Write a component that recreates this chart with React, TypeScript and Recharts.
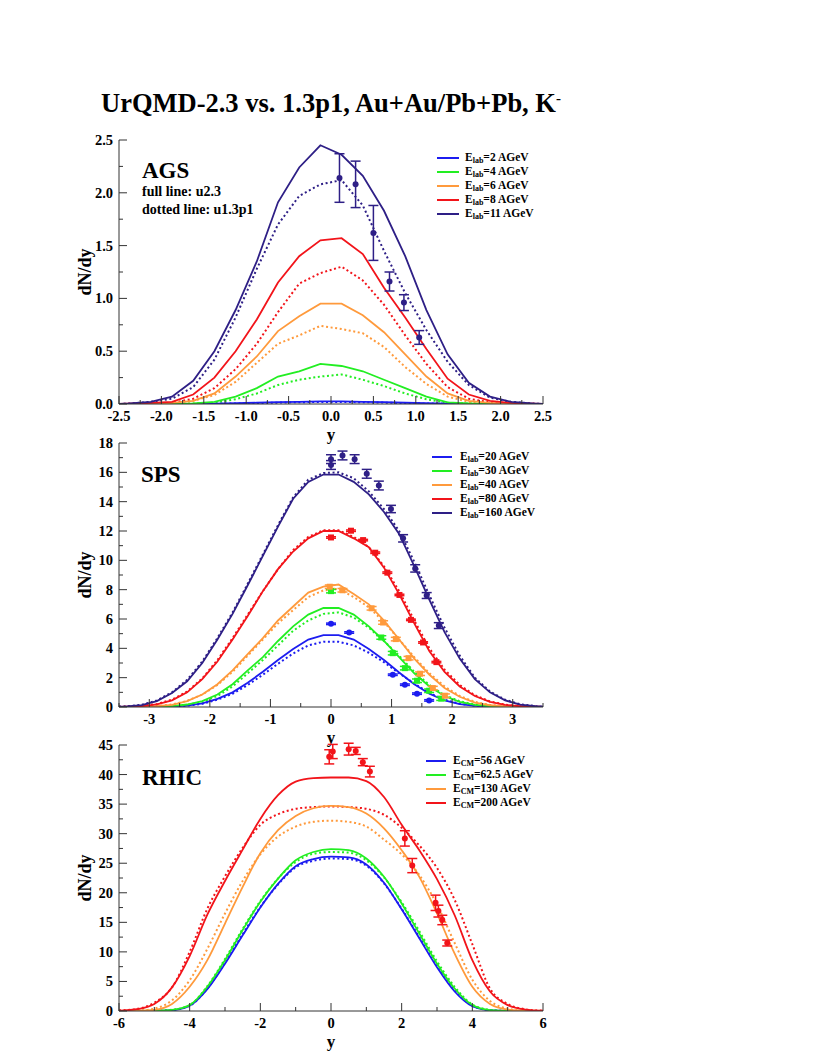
import React from "react";
import { ComposedChart, Line, Scatter, ErrorBar, XAxis, YAxis } from "recharts";

const SERIF = '"Liberation Serif", "Times New Roman", serif';

const BLUE = "#1c1cf0";
const GREEN = "#22ee22";
const ORANGE = "#ff9a3c";
const RED = "#f2141a";
const PURPLE = "#2e1f86";

// ---------------- AGS ----------------
const agsRapidity = [-2.5, -2.375, -2.125, -1.875, -1.625, -1.375, -1.125, -0.875, -0.625, -0.375, -0.125,
  0.125, 0.375, 0.625, 0.875, 1.125, 1.375, 1.625, 1.875, 2.125, 2.375, 2.5];
const ags2Full = [0, 0, 0, 0, 0.002, 0.004, 0.007, 0.012, 0.017, 0.021, 0.024, 0.024, 0.021, 0.017, 0.012, 0.007, 0.004, 0.002, 0, 0, 0, 0];
const ags2Dot = [0, 0, 0, 0, 0.001, 0.003, 0.005, 0.009, 0.013, 0.017, 0.019, 0.019, 0.017, 0.013, 0.009, 0.005, 0.003, 0.001, 0, 0, 0, 0];
const ags4Full = [0, 0, 0.001, 0.002, 0.005, 0.02, 0.07, 0.15, 0.26, 0.31, 0.38, 0.36, 0.31, 0.23, 0.15, 0.07, 0.015, 0.005, 0.002, 0.001, 0, 0];
const ags4Dot = [0, 0, 0.001, 0.002, 0.004, 0.012, 0.045, 0.1, 0.18, 0.23, 0.26, 0.28, 0.23, 0.17, 0.1, 0.045, 0.012, 0.004, 0.002, 0.001, 0, 0];
const ags6Full = [0, 0.001, 0.003, 0.01, 0.03, 0.1, 0.26, 0.45, 0.69, 0.83, 0.95, 0.95, 0.84, 0.68, 0.47, 0.26, 0.1, 0.03, 0.01, 0.003, 0.001, 0];
const ags6Dot = [0, 0.001, 0.002, 0.008, 0.03, 0.085, 0.21, 0.39, 0.57, 0.65, 0.74, 0.71, 0.67, 0.54, 0.35, 0.19, 0.07, 0.02, 0.006, 0.002, 0.001, 0];
const ags8Full = [0, 0.003, 0.01, 0.02, 0.09, 0.25, 0.5, 0.8, 1.15, 1.4, 1.55, 1.57, 1.42, 1.1, 0.82, 0.52, 0.24, 0.09, 0.03, 0.01, 0.003, 0];
const ags8Dot = [0, 0.002, 0.005, 0.01, 0.05, 0.15, 0.33, 0.57, 0.87, 1.14, 1.24, 1.3, 1.17, 0.94, 0.65, 0.38, 0.16, 0.05, 0.015, 0.005, 0.002, 0];
const ags11Full = [0, 0.005, 0.02, 0.07, 0.22, 0.5, 0.89, 1.35, 1.91, 2.24, 2.45, 2.36, 2.16, 1.83, 1.4, 0.89, 0.47, 0.2, 0.07, 0.02, 0.005, 0];
const ags11Dot = [0, 0.005, 0.02, 0.05, 0.16, 0.42, 0.82, 1.28, 1.7, 1.97, 2.08, 2.12, 1.88, 1.45, 1.05, 0.7, 0.4, 0.18, 0.06, 0.02, 0.005, 0];
const agsDataY = [0.1, 0.29, 0.5, 0.69, 0.86, 1.04];
const agsDataN = [2.14, 2.08, 1.62, 1.16, 0.96, 0.63];
const agsDataErr = [0.23, 0.22, 0.26, 0.09, 0.075, 0.065];
const agsLegend = ["=2 AGeV", "=4 AGeV", "=6 AGeV", "=8 AGeV", "=11 AGeV"];
const agsXLabels = ["-2.5", "-2.0", "-1.5", "-1.0", "-0.5", "0.0", "0.5", "1.0", "1.5", "2.0", "2.5"];
const agsYLabels = ["0.0", "0.5", "1.0", "1.5", "2.0", "2.5"];

// ---------------- SPS ----------------
const spsRapidity = [-3.5, -3.375, -3.125, -2.875, -2.625, -2.375, -2.125, -1.875, -1.625, -1.375, -1.125, -0.875, -0.625, -0.375, -0.125,
  0.125, 0.375, 0.625, 0.875, 1.125, 1.375, 1.625, 1.875, 2.125, 2.375, 2.625, 2.875, 3.125, 3.375, 3.5];
const sps20Full = [0, 0, 0, 0.01, 0.035, 0.1, 0.25, 0.55, 1.0, 1.65, 2.4, 3.2, 3.95, 4.6, 4.9, 4.9, 4.6, 3.95, 3.2, 2.35, 1.55, 0.9, 0.45, 0.2, 0.08, 0.03, 0.01, 0, 0, 0];
const sps20Dot = [0, 0, 0, 0.01, 0.03, 0.09, 0.22, 0.5, 0.9, 1.5, 2.2, 2.95, 3.65, 4.2, 4.45, 4.45, 4.2, 3.7, 3.05, 2.3, 1.6, 0.95, 0.5, 0.22, 0.09, 0.03, 0.01, 0, 0, 0];
const sps30Full = [0, 0, 0.01, 0.02, 0.06, 0.17, 0.4, 0.85, 1.55, 2.5, 3.4, 4.5, 5.5, 6.3, 6.75, 6.75, 6.3, 5.5, 4.5, 3.4, 2.3, 1.4, 0.75, 0.35, 0.14, 0.05, 0.015, 0, 0, 0];
const sps30Dot = [0, 0, 0.01, 0.02, 0.05, 0.15, 0.35, 0.75, 1.4, 2.3, 3.2, 4.2, 5.2, 5.9, 6.35, 6.45, 6.1, 5.4, 4.5, 3.5, 2.4, 1.5, 0.8, 0.4, 0.16, 0.06, 0.02, 0, 0, 0];
const sps40Full = [0, 0.01, 0.02, 0.05, 0.15, 0.4, 0.85, 1.55, 2.5, 3.6, 4.7, 5.9, 6.85, 7.8, 8.2, 8.35, 7.7, 7.0, 5.9, 4.6, 3.3, 2.2, 1.3, 0.7, 0.3, 0.12, 0.04, 0.01, 0, 0];
const sps40Dot = [0, 0.01, 0.02, 0.06, 0.17, 0.42, 0.85, 1.5, 2.4, 3.5, 4.6, 5.7, 6.6, 7.5, 7.95, 8.05, 7.5, 6.8, 5.8, 4.6, 3.4, 2.3, 1.4, 0.75, 0.35, 0.14, 0.05, 0.01, 0, 0];
const sps80Full = [0.01, 0.02, 0.06, 0.18, 0.45, 1.0, 1.9, 3.1, 4.6, 6.2, 7.9, 9.4, 10.6, 11.5, 12.0, 12.0, 11.5, 10.9, 9.5, 7.7, 5.7, 3.8, 2.4, 1.4, 0.75, 0.35, 0.14, 0.05, 0.02, 0.01];
const sps80Dot = [0.01, 0.02, 0.07, 0.2, 0.5, 1.05, 1.95, 3.2, 4.7, 6.3, 7.9, 9.4, 10.7, 11.6, 12.05, 12.05, 11.6, 10.9, 9.6, 7.9, 5.9, 4.0, 2.55, 1.5, 0.8, 0.38, 0.16, 0.06, 0.02, 0.01];
const sps160Full = [0.02, 0.04, 0.13, 0.4, 0.95, 1.75, 3.0, 4.6, 6.35, 8.3, 10.3, 12.3, 14.2, 15.35, 15.85, 15.85, 15.35, 14.5, 13.3, 11.8, 9.6, 7.3, 5.1, 3.3, 1.9, 1.0, 0.45, 0.16, 0.05, 0.02];
const sps160Dot = [0.02, 0.05, 0.15, 0.45, 1.0, 1.85, 3.1, 4.7, 6.45, 8.4, 10.4, 12.4, 14.3, 15.5, 15.95, 16.0, 15.6, 14.7, 13.5, 12.0, 9.9, 7.6, 5.4, 3.5, 2.0, 1.05, 0.5, 0.18, 0.06, 0.02];
const sps20DataY = [0, 0.3, 1.02, 1.22, 1.42, 1.62];
const sps20DataN = [5.67, 5.08, 2.2, 1.52, 0.91, 0.45];
const sps30DataY = [0, 0.83, 1.02, 1.22, 1.42, 1.62, 1.82];
const sps30DataN = [7.9, 4.74, 3.67, 2.65, 1.79, 1.11, 0.57];
const sps40DataY = [-0.02, 0.19, 0.67, 0.86, 1.07, 1.28, 1.47, 1.68, 1.88];
const sps40DataN = [8.2, 7.96, 6.73, 5.76, 4.63, 3.33, 2.27, 1.29, 0.77];
const sps80DataY = [0, 0.33, 0.53, 0.73, 0.93, 1.13, 1.32, 1.52, 1.74];
const sps80DataN = [11.56, 12.02, 11.38, 10.52, 9.16, 7.64, 5.94, 4.4, 3.06];
const sps160DataY = [0, 0, 0.19, 0.39, 0.59, 0.79, 0.99, 1.19, 1.39, 1.58, 1.78];
const sps160DataN = [16.9, 16.5, 17.15, 16.9, 15.9, 15.1, 13.5, 11.5, 9.45, 7.6, 5.55];
const sps160DataErr = [0.3, 0.3, 0.3, 0.3, 0.3, 0.3, 0.25, 0.25, 0.25, 0.2, 0.2];
const spsLegend = ["=20 AGeV", "=30 AGeV", "=40 AGeV", "=80 AGeV", "=160 AGeV"];
const spsXLabels = ["-3", "-2", "-1", "0", "1", "2", "3"];
const spsYLabels = ["0", "2", "4", "6", "8", "10", "12", "14", "16", "18"];

// ---------------- RHIC ----------------
const rhicRapidity = [-6, -5.5, -5, -4.5, -4, -3.5, -3, -2.5, -2, -1.5, -1, -0.5, 0, 0.5, 1, 1.5, 2, 2.5, 3, 3.5, 4, 4.5, 5, 5.5, 6];
const rhic56Full = [0, 0.01, 0.03, 0.15, 0.9, 3.7, 8.0, 12.8, 17.5, 21.5, 24.5, 25.7, 26.1, 26.0, 24.8, 21.7, 17.2, 12.3, 7.4, 3.3, 0.8, 0.1, 0.01, 0, 0];
const rhic56Dot = [0, 0.01, 0.03, 0.15, 0.9, 3.8, 8.2, 13.0, 17.6, 21.4, 24.3, 25.4, 25.8, 25.7, 24.6, 21.6, 17.3, 12.5, 7.7, 3.5, 0.9, 0.12, 0.01, 0, 0];
const rhic62Full = [0, 0.02, 0.05, 0.2, 1.0, 4.1, 8.6, 13.7, 18.5, 22.4, 25.5, 26.9, 27.4, 27.2, 25.8, 22.7, 18.2, 13.1, 8.0, 3.8, 1.0, 0.15, 0.02, 0, 0];
const rhic62Dot = [0, 0.02, 0.05, 0.2, 1.0, 4.2, 8.8, 13.9, 18.6, 22.4, 25.2, 26.6, 26.9, 26.8, 25.5, 22.6, 18.4, 13.5, 8.4, 4.1, 1.1, 0.2, 0.02, 0, 0];
const rhic130Full = [0.02, 0.05, 0.2, 1.2, 4.1, 8.6, 14.8, 21.0, 26.7, 30.6, 33.0, 34.3, 34.7, 34.5, 33.4, 30.9, 27.2, 22.7, 16.5, 9.7, 4.1, 1.2, 0.25, 0.05, 0.02];
const rhic130Dot = [0.02, 0.05, 0.4, 1.8, 5.2, 10.5, 16.5, 22.0, 26.5, 29.5, 31.2, 32.0, 32.2, 32.0, 31.2, 29.0, 26.5, 23.0, 18.0, 11.5, 5.3, 1.7, 0.4, 0.05, 0.02];
const rhic200Full = [0.05, 0.3, 1.2, 4.0, 9.3, 16.3, 22.0, 27.3, 32.5, 36.5, 38.8, 39.4, 39.5, 39.5, 38.9, 36.2, 31.5, 27.2, 22.3, 16.2, 8.6, 3.3, 1.0, 0.25, 0.05];
const rhic200Dot = [0.1, 0.35, 1.4, 4.0, 10.0, 17.3, 22.8, 27.6, 31.5, 33.3, 34.2, 34.5, 34.6, 34.5, 34.2, 33.2, 31.0, 28.0, 24.2, 18.8, 11.3, 3.8, 1.2, 0.3, 0.05];
const rhicDataY = [-0.05, 0.05, 0.5, 0.7, 0.9, 1.1, 2.09, 2.3, 2.96, 3.04, 3.15, 3.29];
const rhicDataN = [43.0, 43.9, 44.3, 44.0, 42.1, 40.5, 29.2, 24.6, 18.3, 16.9, 15.4, 11.5];
const rhicDataErr = [1.2, 1.2, 1.0, 0.6, 0.6, 0.9, 1.3, 1.2, 1.3, 1.0, 0.8, 0.5];
const rhicLegend = ["=56 AGeV", "=62.5 AGeV", "=130 AGeV", "=200 AGeV"];
const rhicXLabels = ["-6", "-4", "-2", "0", "2", "4", "6"];
const rhicYLabels = ["0", "5", "10", "15", "20", "25", "30", "35", "40", "45"];

type Curve = { color: string; full: number[]; dotted: number[] };
type DataSet = { color: string; shape: "circle" | "square"; xs: number[]; ys: number[]; err: number[] };

const toPts = (xs: number[], ys: number[]) => xs.map((x, i) => ({ x, y: ys[i] }));
const toData = (d: DataSet) => d.xs.map((x, i) => ({ x, y: d.ys[i], e: d.err[i] }));
const fill = (n: number, v: number) => new Array(n).fill(v);

const stepTicks = (lo: number, hi: number, step: number) => {
  const out: number[] = [];
  for (let v = lo; v <= hi + 1e-9; v += step) out.push(Math.round(v * 1000) / 1000);
  return out;
};

function makeTick(side: "bottom" | "top" | "left" | "right", majors: number[], labels: string[] | null) {
  return (p: any) => {
    const { x, y, payload } = p;
    const idx = majors.findIndex((m) => Math.abs(m - payload.value) < 1e-6);
    const len = idx >= 0 ? 8 : 4;
    let line = null;
    if (side === "bottom") line = <line x1={x} y1={y} x2={x} y2={y - len} />;
    if (side === "top") line = <line x1={x} y1={y} x2={x} y2={y + len} />;
    if (side === "left") line = <line x1={x} y1={y} x2={x + len} y2={y} />;
    if (side === "right") line = <line x1={x} y1={y} x2={x - len} y2={y} />;
    let label = null;
    if (labels && idx >= 0) {
      if (side === "bottom")
        label = (
          <text x={x} y={y + 17} textAnchor="middle" stroke="none" fill="#000" fontSize={14.5} fontWeight="bold" fontFamily={SERIF}>
            {labels[idx]}
          </text>
        );
      if (side === "left")
        label = (
          <text x={x - 6} y={y + 5} textAnchor="end" stroke="none" fill="#000" fontSize={14.5} fontWeight="bold" fontFamily={SERIF}>
            {labels[idx]}
          </text>
        );
    }
    return (
      <g stroke="#333" strokeWidth={1}>
        {line}
        {label}
      </g>
    );
  };
}

interface PanelProps {
  plotTop: number;
  plotH: number;
  xs: number[];
  curves: Curve[];
  data: DataSet[];
  xDomain: [number, number];
  xStep: number;
  xMajor: number[];
  xLabels: string[];
  yDomain: [number, number];
  yStep: number;
  yMajor: number[];
  yLabels: string[];
  curveType: "linear" | "monotone";
}

function Panel(props: PanelProps) {
  const { plotTop, plotH, xs, curves, data, xDomain, xStep, xMajor, xLabels, yDomain, yStep, yMajor, yLabels, curveType } = props;
  const xTicks = stepTicks(xDomain[0], xDomain[1], xStep);
  const yTicks = stepTicks(yDomain[0], yDomain[1], yStep);
  const h = 20 + plotH + 50;
  return (
    <div style={{ position: "absolute", left: 0, top: plotTop - 20 }}>
      <ComposedChart width={817} height={h} margin={{ top: 20, right: 274, bottom: 10, left: 59 }}>
        <XAxis xAxisId="b" type="number" dataKey="x" domain={xDomain} allowDataOverflow ticks={xTicks} interval={0}
          tickSize={0} tickMargin={0} tickLine={false} height={40} axisLine={{ stroke: "#333" }}
          tick={makeTick("bottom", xMajor, xLabels)} />
        <XAxis xAxisId="t" orientation="top" type="number" dataKey="x" domain={xDomain} allowDataOverflow ticks={xTicks} interval={0}
          tickSize={0} tickMargin={0} tickLine={false} height={0} axisLine={{ stroke: "#333" }}
          tick={makeTick("top", xMajor, null)} />
        <YAxis yAxisId="l" type="number" dataKey="y" domain={yDomain} allowDataOverflow ticks={yTicks} interval={0}
          tickSize={0} tickMargin={0} tickLine={false} width={60} axisLine={{ stroke: "#333" }}
          tick={makeTick("left", yMajor, yLabels)} />
        <YAxis yAxisId="r" orientation="right" type="number" dataKey="y" domain={yDomain} allowDataOverflow ticks={yTicks} interval={0}
          tickSize={0} tickMargin={0} tickLine={false} width={0} axisLine={{ stroke: "#333" }}
          tick={makeTick("right", yMajor, null)} />
        {curves.map((c, i) => (
          <Line key={"d" + i} xAxisId="b" yAxisId="l" data={toPts(xs, c.dotted)} dataKey="y" type={curveType}
            stroke={c.color} strokeWidth={2} strokeDasharray="2 2.6" dot={false} activeDot={false} isAnimationActive={false} />
        ))}
        {curves.map((c, i) => (
          <Line key={"f" + i} xAxisId="b" yAxisId="l" data={toPts(xs, c.full)} dataKey="y" type={curveType}
            stroke={c.color} strokeWidth={1.8} dot={false} activeDot={false} isAnimationActive={false} />
        ))}
        {data.map((d, i) => (
          <Scatter key={"s" + i} xAxisId="b" yAxisId="l" data={toData(d)} dataKey="y" isAnimationActive={false}
            shape={(sp: any) =>
              d.shape === "circle" ? (
                <circle cx={sp.cx} cy={sp.cy} r={3} fill={d.color} />
              ) : (
                <rect x={sp.cx - 3} y={sp.cy - 3} width={6} height={6} fill={d.color} />
              )
            }>
            <ErrorBar dataKey="e" direction="y" width={5} strokeWidth={1.5} stroke={d.color} />
          </Scatter>
        ))}
      </ComposedChart>
    </div>
  );
}

function LegendBox({ left, top, lineW, gap, colors, sub, texts }: { left: number; top: number; lineW: number; gap: number; colors: string[]; sub: string; texts: string[] }) {
  return (
    <div style={{ position: "absolute", left, top, fontFamily: SERIF, fontWeight: "bold", fontSize: 11.5 }}>
      {texts.map((t, i) => (
        <div key={i} style={{ display: "flex", alignItems: "center", height: 14, whiteSpace: "nowrap" }}>
          <div style={{ width: lineW, height: 2, background: colors[i], marginRight: gap }} />
          <span>
            E<sub style={{ fontSize: 8, verticalAlign: "-2px" }}>{sub}</sub>
            {t}
          </span>
        </div>
      ))}
    </div>
  );
}

const abs = (left: number, top: number, extra: React.CSSProperties = {}): React.CSSProperties => ({
  position: "absolute", left, top, fontFamily: SERIF, fontWeight: "bold", whiteSpace: "nowrap", ...extra,
});

function AxisTitles({ plotTop, plotH }: { plotTop: number; plotH: number }) {
  return (
    <>
      <div style={abs(85, plotTop + plotH / 2, { fontSize: 18, lineHeight: "18px", transform: "translate(-50%, -50%) rotate(-90deg)" })}>
        dN/dy
      </div>
      <div style={abs(331, plotTop + plotH + 20.5, { fontSize: 17, lineHeight: "19px", transform: "translateX(-50%)" })}>y</div>
    </>
  );
}

export default function App() {
  const five = [BLUE, GREEN, ORANGE, RED, PURPLE];
  const agsCurves: Curve[] = [
    { color: BLUE, full: ags2Full, dotted: ags2Dot },
    { color: GREEN, full: ags4Full, dotted: ags4Dot },
    { color: ORANGE, full: ags6Full, dotted: ags6Dot },
    { color: RED, full: ags8Full, dotted: ags8Dot },
    { color: PURPLE, full: ags11Full, dotted: ags11Dot },
  ];
  const spsCurves: Curve[] = [
    { color: BLUE, full: sps20Full, dotted: sps20Dot },
    { color: GREEN, full: sps30Full, dotted: sps30Dot },
    { color: ORANGE, full: sps40Full, dotted: sps40Dot },
    { color: RED, full: sps80Full, dotted: sps80Dot },
    { color: PURPLE, full: sps160Full, dotted: sps160Dot },
  ];
  const rhicCurves: Curve[] = [
    { color: BLUE, full: rhic56Full, dotted: rhic56Dot },
    { color: GREEN, full: rhic62Full, dotted: rhic62Dot },
    { color: ORANGE, full: rhic130Full, dotted: rhic130Dot },
    { color: RED, full: rhic200Full, dotted: rhic200Dot },
  ];
  const agsData: DataSet[] = [{ color: PURPLE, shape: "circle", xs: agsDataY, ys: agsDataN, err: agsDataErr }];
  const spsData: DataSet[] = [
    { color: BLUE, shape: "circle", xs: sps20DataY, ys: sps20DataN, err: fill(sps20DataY.length, 0.05) },
    { color: GREEN, shape: "square", xs: sps30DataY, ys: sps30DataN, err: fill(sps30DataY.length, 0.12) },
    { color: ORANGE, shape: "square", xs: sps40DataY, ys: sps40DataN, err: fill(sps40DataY.length, 0.12) },
    { color: RED, shape: "square", xs: sps80DataY, ys: sps80DataN, err: fill(sps80DataY.length, 0.05) },
    { color: PURPLE, shape: "circle", xs: sps160DataY, ys: sps160DataN, err: sps160DataErr },
  ];
  const rhicData: DataSet[] = [{ color: RED, shape: "circle", xs: rhicDataY, ys: rhicDataN, err: rhicDataErr }];

  return (
    <div style={{ position: "absolute", left: 0, top: 0, width: 817, height: 1058, background: "#fff" }}>
      <div style={abs(101, 83, { fontSize: 26.5, lineHeight: "30px" })}>
        UrQMD-2.3 vs. 1.3p1, Au+Au/Pb+Pb, K<sup style={{ fontSize: 15, verticalAlign: "9px" }}>-</sup>
      </div>

      <Panel plotTop={140} plotH={264} xs={agsRapidity} curves={agsCurves} data={agsData}
        xDomain={[-2.5, 2.5]} xStep={0.25} xMajor={[-2.5, -2, -1.5, -1, -0.5, 0, 0.5, 1, 1.5, 2, 2.5]} xLabels={agsXLabels}
        yDomain={[0, 2.5]} yStep={0.25} yMajor={[0, 0.5, 1, 1.5, 2, 2.5]} yLabels={agsYLabels} curveType="linear" />
      <AxisTitles plotTop={140} plotH={264} />
      <div style={abs(142, 158.7, { fontSize: 23, lineHeight: "23px" })}>AGS</div>
      <div style={abs(142, 185, { fontSize: 14, lineHeight: "14px" })}>full line: u2.3</div>
      <div style={abs(142, 203, { fontSize: 14, lineHeight: "14px" })}>dotted line: u1.3p1</div>
      <LegendBox left={437} top={151} lineW={22} gap={6} colors={five} sub="lab" texts={agsLegend} />

      <Panel plotTop={443} plotH={264} xs={spsRapidity} curves={spsCurves} data={spsData}
        xDomain={[-3.5, 3.5]} xStep={0.5} xMajor={[-3, -2, -1, 0, 1, 2, 3]} xLabels={spsXLabels}
        yDomain={[0, 18]} yStep={1} yMajor={[0, 2, 4, 6, 8, 10, 12, 14, 16, 18]} yLabels={spsYLabels} curveType="linear" />
      <AxisTitles plotTop={443} plotH={264} />
      <div style={abs(141, 462.7, { fontSize: 23, lineHeight: "23px" })}>SPS</div>
      <LegendBox left={432} top={450} lineW={20} gap={8} colors={five} sub="lab" texts={spsLegend} />

      <Panel plotTop={745} plotH={266} xs={rhicRapidity} curves={rhicCurves} data={rhicData}
        xDomain={[-6, 6]} xStep={1} xMajor={[-6, -4, -2, 0, 2, 4, 6]} xLabels={rhicXLabels}
        yDomain={[0, 45]} yStep={2.5} yMajor={[0, 5, 10, 15, 20, 25, 30, 35, 40, 45]} yLabels={rhicYLabels} curveType="monotone" />
      <AxisTitles plotTop={745} plotH={266} />
      <div style={abs(142, 765.7, { fontSize: 23, lineHeight: "23px" })}>RHIC</div>
      <LegendBox left={426} top={754} lineW={20} gap={7} colors={[BLUE, GREEN, ORANGE, RED]} sub="CM" texts={rhicLegend} />
    </div>
  );
}
